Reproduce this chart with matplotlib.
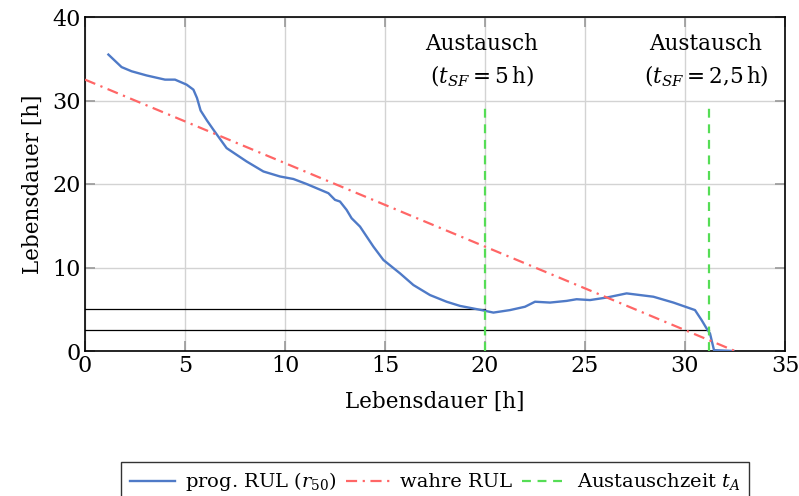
import matplotlib
matplotlib.use("Agg")
import matplotlib.pyplot as plt

# prognosed RUL (r50)
prog_x = [1.17, 1.83, 2.33, 3.08, 4.0, 4.5, 5.08, 5.42, 5.6, 5.78, 6.1, 6.42, 7.08, 8.08, 8.92,
          9.75, 10.42, 11.08, 12.17, 12.5, 12.75, 13.08, 13.33, 13.75, 14.42, 14.92, 15.75,
          16.42, 17.25, 18.08, 18.75, 19.83, 20.42, 21.25, 22.0, 22.5, 23.25, 24.08, 24.58,
          25.25, 26.08, 27.08, 27.75, 28.42, 29.42, 30.5, 30.83, 31.08, 31.25, 31.45, 32.42]
prog_y = [35.5, 34.0, 33.5, 33.0, 32.5, 32.5, 31.9, 31.3, 30.3, 28.8, 27.6, 26.5, 24.3, 22.7, 21.5,
          20.9, 20.6, 20.0, 18.9, 18.1, 17.9, 16.9, 15.9, 14.9, 12.5, 10.9, 9.3,
          7.9, 6.7, 5.9, 5.4, 4.9, 4.6, 4.9, 5.3, 5.9, 5.8, 6.0, 6.2,
          6.1, 6.4, 6.9, 6.7, 6.5, 5.8, 4.9, 3.7, 2.7, 2.1, 0.1, 0.0]

true_x = [0.0, 32.5]
true_y = [32.5, 0.0]

exchange_x = [20.0, 31.2]
exchange_top = 29.7
thresholds = [5.0, 2.5]
labels_ann = [r"Austausch" "\n" r"($t_{SF} = 5\,\mathrm{h}$)",
              r"Austausch" "\n" r"($t_{SF} = 2{,}5\,\mathrm{h}$)"]

plt.rcParams['font.family'] = ['DejaVu Serif']
plt.rcParams['mathtext.fontset'] = 'dejavuserif'

fig = plt.figure(figsize=(7.99, 4.96), dpi=100)
ax = fig.add_axes([85/799, 1-351/496, 700/799, 334/496])

ax.set_xlim(0, 35)
ax.set_ylim(0, 40)
ax.set_xticks([0, 5, 10, 15, 20, 25, 30, 35])
ax.set_yticks([0, 10, 20, 30, 40])
ax.grid(True, color='#d3d3d3', linewidth=1.0)
ax.set_axisbelow(True)
ax.tick_params(direction='in', length=7, color='#999999', width=1.2,
               top=True, right=True, labelsize=16, pad=3)
for s in ax.spines.values():
    s.set_linewidth(1.2)
    s.set_color('black')

# threshold horizontal lines
for xe, th in zip(exchange_x, thresholds):
    ax.plot([0, xe], [th, th], color='black', linewidth=0.9, zorder=2)

l1, = ax.plot(prog_x, prog_y, color='#4f7ac7', linewidth=1.7, label=r'prog. RUL ($r_{50}$)', zorder=3)
l2, = ax.plot(true_x, true_y, color='#ff6666', linewidth=1.6, dashes=[5, 2.5, 1, 2.5],
              label='wahre RUL', zorder=3)
green = []
for i, xe in enumerate(exchange_x):
    ln, = ax.plot([xe, xe], [0, exchange_top], color='#55dd55', linewidth=1.6,
                  dashes=[4, 3], label=r'Austauschzeit $t_A$' if i == 0 else None, zorder=3)
    green.append(ln)
l3 = green[0]

for xe, txt in zip(exchange_x, labels_ann):
    ax.text(xe - 0.15, 34.7, txt, ha='center', va='center',
            fontsize=15.5, linespacing=1.45)

ax.set_xlabel('Lebensdauer [h]', fontsize=15.5, labelpad=10)
ax.set_ylabel('Lebensdauer [h]', fontsize=15.5, labelpad=6)

fig.legend(handles=[l1, l2, l3], loc='upper center', bbox_to_anchor=(435/799, 1-452/496),
           ncol=3, fontsize=14, frameon=True, fancybox=False, edgecolor='black',
           handlelength=2.3, handletextpad=0.5, columnspacing=0.5, borderpad=0.45)
fig.legends[0].get_frame().set_linewidth(1.0)

fig.savefig('out.png', dpi=100)
